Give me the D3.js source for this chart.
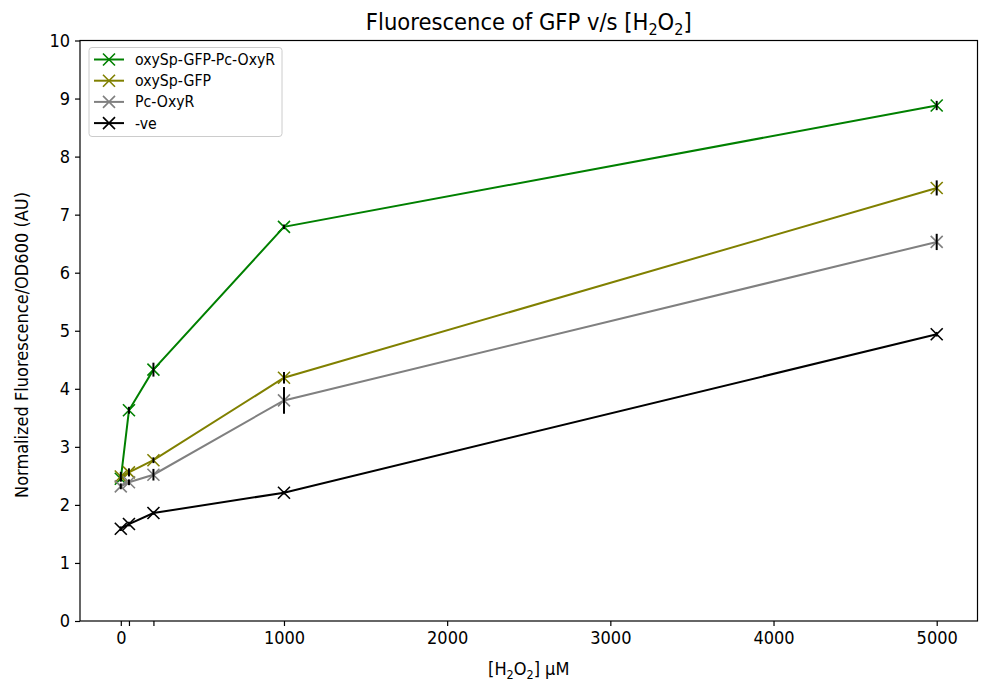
<!DOCTYPE html>
<html>
<head>
<meta charset="utf-8">
<script src="https://cdn.jsdelivr.net/npm/d3@7"></script>
<style>
  html, body { margin: 0; padding: 0; background: #fff; }
  svg text { font-family: "DejaVu Sans Condensed", "DejaVu Sans", sans-serif; fill: #000; }
</style>
</head>
<body>
<svg id="chart" width="989" height="693"></svg>
<script>
// ---- data ----
const concentrations = [0, 50, 200, 1000, 5000];
const seriesNames = ["oxySp-GFP-Pc-OxyR", "oxySp-GFP", "Pc-OxyR", "-ve"];
const seriesColors = ["#008000", "#808000", "#808080", "#000000"];
const greenValues = [2.45, 3.63, 4.33, 6.79, 8.88];
const oliveValues = [2.49, 2.56, 2.77, 4.19, 7.46];
const grayValues  = [2.32, 2.39, 2.52, 3.80, 6.53];
const blackValues = [1.59, 1.67, 1.86, 2.21, 4.94];
const greenErrors = [0.05, 0.06, 0.12, 0.04, 0.08];
const oliveErrors = [0.08, 0.07, 0.05, 0.10, 0.13];
const grayErrors  = [0.05, 0.05, 0.10, 0.23, 0.14];
const blackErrors = [0.04, 0.04, 0.03, 0.03, 0.04];
const xTickValues = [0, 50, 200, 1000, 2000, 3000, 4000, 5000];
const xTickLabels = ["0", "", "", "1000", "2000", "3000", "4000", "5000"];
const yTickValues = [0, 1, 2, 3, 4, 5, 6, 7, 8, 9, 10];

const allValues = [greenValues, oliveValues, grayValues, blackValues];
const allErrors = [greenErrors, oliveErrors, grayErrors, blackErrors];

// ---- layout ----
const svg = d3.select("#chart");
const mLeft = 80, mRight = 977.5, mTop = 40.5, mBottom = 621;
const x = d3.scaleLinear().domain([-250, 5250]).range([mLeft, mRight]);
const y = d3.scaleLinear().domain([0, 10]).range([mBottom, mTop]);

// axes
const xAxis = d3.axisBottom(x).tickValues(xTickValues)
  .tickFormat((d, i) => xTickLabels[i]).tickSize(5).tickPadding(5);
const gx = svg.append("g").attr("transform", `translate(0,${mBottom})`).call(xAxis);
const yAxis = d3.axisLeft(y).tickValues(yTickValues).tickFormat(d3.format("d")).tickSize(5).tickPadding(5);
const gy = svg.append("g").attr("transform", `translate(${mLeft},0)`).call(yAxis);
[gx, gy].forEach(g => {
  g.select(".domain").remove();
  g.selectAll(".tick line").attr("stroke", "#000").attr("stroke-width", 1.2);
  g.selectAll(".tick text").style("font-size", "18px").attr("fill", "#000");
});

// frame
svg.append("rect").attr("x", mLeft).attr("y", mTop)
  .attr("width", mRight - mLeft).attr("height", mBottom - mTop)
  .attr("fill", "none").attr("stroke", "#000").attr("stroke-width", 1.2);

// series
const line = d3.line().x((d) => x(d[0])).y((d) => y(d[1]));
const ms = 6;
function xMarker(g, cx, cy, color) {
  g.append("path")
    .attr("d", `M${cx - ms},${cy - ms}L${cx + ms},${cy + ms}M${cx - ms},${cy + ms}L${cx + ms},${cy - ms}`)
    .attr("stroke", color).attr("stroke-width", 1.6).attr("fill", "none");
}
allValues.forEach((vals, si) => {
  const pts = concentrations.map((c, i) => [c, vals[i]]);
  const g = svg.append("g");
  g.append("path").datum(pts).attr("d", line)
    .attr("fill", "none").attr("stroke", seriesColors[si]).attr("stroke-width", 2);
  pts.forEach(p => xMarker(g, x(p[0]), y(p[1]), seriesColors[si]));
  pts.forEach((p, i) => {
    const e = allErrors[si][i];
    g.append("line").attr("x1", x(p[0])).attr("x2", x(p[0]))
      .attr("y1", y(p[1] - e)).attr("y2", y(p[1] + e))
      .attr("stroke", "#000").attr("stroke-width", 2);
  });
});

// legend
const lg = svg.append("g");
lg.append("rect").attr("x", 89).attr("y", 47.5).attr("width", 193).attr("height", 89)
  .attr("rx", 3).attr("fill", "#fff").attr("fill-opacity", 0.8)
  .attr("stroke", "#ccc").attr("stroke-width", 1);
seriesNames.forEach((name, i) => {
  const ry = 59.5 + i * 21.2;
  lg.append("line").attr("x1", 94).attr("x2", 124).attr("y1", ry).attr("y2", ry)
    .attr("stroke", seriesColors[i]).attr("stroke-width", 2);
  xMarker(lg, 109, ry, seriesColors[i]);
  lg.append("text").attr("x", 135).attr("y", ry).attr("dy", "0.35em")
    .style("font-size", "15.7px").text(name);
});

// title
const title = svg.append("text").attr("x", (mLeft + mRight) / 2).attr("y", 30)
  .attr("text-anchor", "middle").style("font-size", "23.5px");
title.append("tspan").text("Fluorescence of GFP v/s [H");
title.append("tspan").attr("dy", 5).style("font-size", "16px").text("2");
title.append("tspan").attr("dy", -5).text("O");
title.append("tspan").attr("dy", 5).style("font-size", "16px").text("2");
title.append("tspan").attr("dy", -5).text("]");

// x label
const xl = svg.append("text").attr("x", (mLeft + mRight) / 2).attr("y", 675)
  .attr("text-anchor", "middle").style("font-size", "18px");
xl.append("tspan").text("[H");
xl.append("tspan").attr("dy", 4).style("font-size", "12.5px").text("2");
xl.append("tspan").attr("dy", -4).text("O");
xl.append("tspan").attr("dy", 4).style("font-size", "12.5px").text("2");
xl.append("tspan").attr("dy", -4).text("] μM");

// y label
svg.append("text").attr("transform", `translate(28,345) rotate(-90)`)
  .attr("text-anchor", "middle").style("font-size", "18px")
  .text("Normalized Fluorescence/OD600 (AU)");
</script>
</body>
</html>
